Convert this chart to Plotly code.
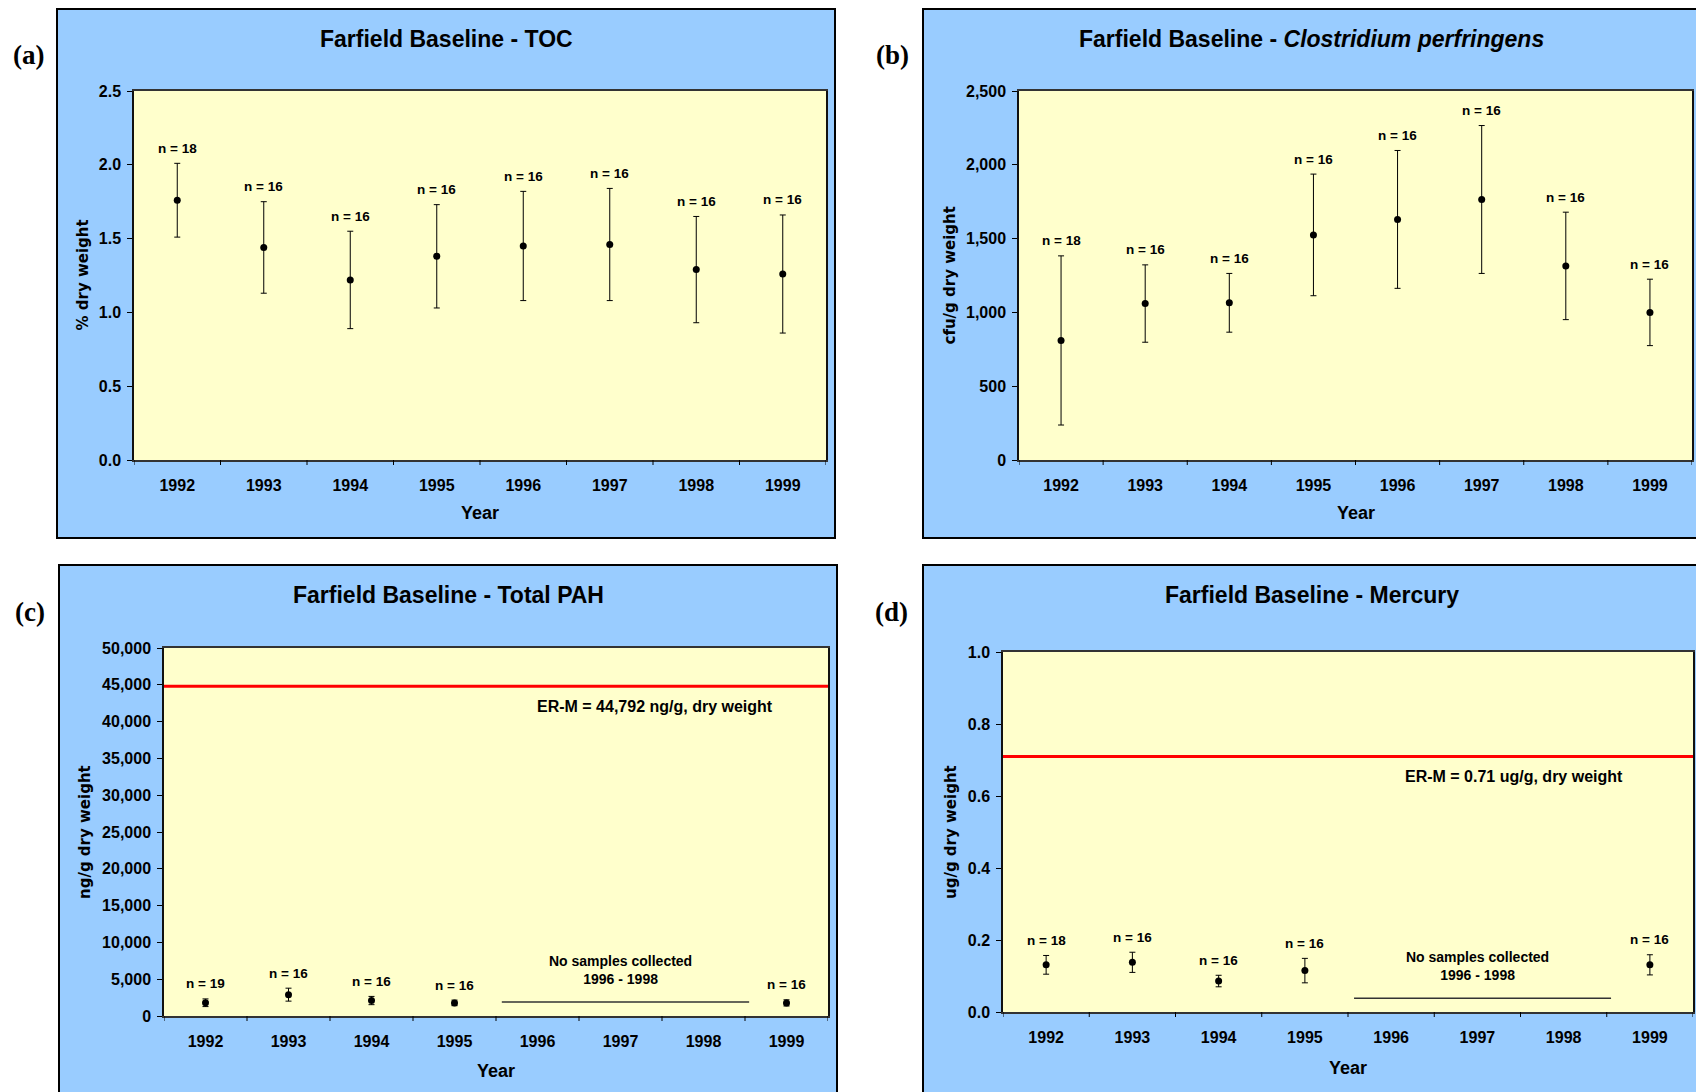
import plotly.graph_objects as go

# ---------------- data ----------------
years = ["1992", "1993", "1994", "1995", "1996", "1997", "1998", "1999"]

toc_mean = [1.76, 1.44, 1.22, 1.38, 1.45, 1.46, 1.29, 1.26]
toc_sd = [0.25, 0.31, 0.33, 0.35, 0.37, 0.38, 0.36, 0.40]
toc_n = [18, 16, 16, 16, 16, 16, 16, 16]

cp_mean = [810, 1060, 1065, 1525, 1630, 1765, 1315, 1000]
cp_sd = [573, 262, 199, 412, 467, 501, 364, 225]
cp_n = [18, 16, 16, 16, 16, 16, 16, 16]

pah_years = ["1992", "1993", "1994", "1995", "1999"]
pah_mean = [1800, 2900, 2100, 1780, 1780]
pah_sd = [520, 880, 560, 380, 420]
pah_n = [19, 16, 16, 16, 16]
pah_erm = 44792
pah_gap_level = 1900

hg_years = ["1992", "1993", "1994", "1995", "1999"]
hg_mean = [0.131, 0.138, 0.086, 0.115, 0.131]
hg_sd = [0.026, 0.028, 0.016, 0.034, 0.028]
hg_n = [18, 16, 16, 16, 16]
hg_erm = 0.71
hg_gap_level = 0.038

gap_text = "No samples collected<br>1996 - 1998"

# ---------------- layout helpers ----------------
W, H = 1696, 1092
BLUE = "#99CCFF"
YELLOW = "#FFFFCC"
SANS = "Liberation Sans"


def fx(x):
    return x / W


def fy(y):
    return 1 - y / H


panels = [
    dict(key="a", box=(57, 9, 835, 538), plot=(134, 91, 826, 460),
         title="Farfield Baseline - TOC", title_x=446, title_y=39,
         ytitle="% dry weight", ytitle_x=82,
         letter_xy=(28, 55), year_y=513,
         x=years, mean=toc_mean, sd=toc_sd, n=toc_n,
         yrange=[0, 2.5], dtick=0.5, fmt=".1f", nshift=15),
    dict(key="b", box=(923, 9, 1705, 538), plot=(1019, 91, 1692, 460),
         title="Farfield Baseline - <i>Clostridium perfringens</i>", title_x=1311, title_y=39,
         ytitle="cfu/g dry weight", ytitle_x=949,
         letter_xy=(892, 55), year_y=513,
         x=years, mean=cp_mean, sd=cp_sd, n=cp_n,
         yrange=[0, 2500], dtick=500, fmt=",", nshift=15),
    dict(key="c", box=(59, 565, 837, 1100), plot=(164, 648, 828, 1016),
         title="Farfield Baseline - Total PAH", title_x=448, title_y=595,
         ytitle="ng/g dry weight", ytitle_x=85,
         letter_xy=(30, 612), year_y=1071,
         x=pah_years, mean=pah_mean, sd=pah_sd, n=pah_n,
         yrange=[0, 50000], dtick=5000, fmt=",", nshift=15,
         erm=pah_erm, erm_text="ER-M = 44,792 ng/g, dry weight", gap=pah_gap_level),
    dict(key="d", box=(923, 565, 1705, 1100), plot=(1003, 652, 1693, 1012),
         title="Farfield Baseline - Mercury", title_x=1312, title_y=595,
         ytitle="ug/g dry weight", ytitle_x=951,
         letter_xy=(891, 612), year_y=1068,
         x=hg_years, mean=hg_mean, sd=hg_sd, n=hg_n,
         yrange=[0, 1.0], dtick=0.2, fmt=".1f", nshift=15,
         erm=hg_erm, erm_text="ER-M = 0.71 ug/g, dry weight", gap=hg_gap_level),
]

fig = go.Figure()
shapes = []
annotations = []

for i, p in enumerate(panels):
    idx = "" if i == 0 else str(i + 1)
    xa, ya = "x" + idx, "y" + idx
    x0, y0, x1, y1 = p["box"]
    px0, py0, px1, py1 = p["plot"]

    # panel background frame
    shapes.append(dict(type="rect", xref="paper", yref="paper", layer="below",
                       x0=fx(x0), x1=fx(x1), y0=fy(y1), y1=fy(y0),
                       fillcolor=BLUE, line=dict(color="black", width=2)))
    # plot area fill
    shapes.append(dict(type="rect", xref="paper", yref="paper", layer="below",
                       x0=fx(px0), x1=fx(px1), y0=fy(py1), y1=fy(py0),
                       fillcolor=YELLOW, line=dict(width=0)))

    xpos = [years.index(v) for v in p["x"]]
    fig.add_trace(go.Scatter(
        x=xpos, y=p["mean"], mode="markers",
        marker=dict(size=7, color="black"),
        error_y=dict(type="data", array=p["sd"], visible=True,
                     color="black", thickness=1, width=3),
        xaxis=xa, yaxis=ya, showlegend=False, hoverinfo="y"))

    axis_x = dict(domain=[fx(px0), fx(px1)], anchor=ya, type="linear",
                  range=[-0.5, 7.5], tickmode="array",
                  tickvals=list(range(len(years))), ticktext=years,
                  ticks="", showline=True, linecolor="#333333", linewidth=1.5, mirror=True,
                  showgrid=False, zeroline=False, ticklabelstandoff=10, automargin=False,
                  tickfont=dict(family=SANS, size=16, color="black", weight="bold"))
    axis_y = dict(domain=[fy(py1), fy(py0)], anchor=xa, range=p["yrange"],
                  dtick=p["dtick"], tick0=0, tickformat=p["fmt"], ticks="outside",
                  ticklen=5, tickcolor="black", showline=True, linecolor="#111111",
                  linewidth=1.5, mirror=True, showgrid=False, zeroline=False,
                  ticklabelstandoff=3, automargin=False,
                  tickfont=dict(family=SANS, size=16, color="black", weight="bold"))
    fig.update_layout(**{"xaxis" + idx: axis_x, "yaxis" + idx: axis_y})

    # category boundary tick marks (Excel style)
    for b in range(len(years) + 1):
        shapes.append(dict(type="line", xref=xa, yref=ya + " domain",
                           x0=b - 0.5, x1=b - 0.5, y0=0, y1=-5 / (py1 - py0),
                           line=dict(color="black", width=1)))

    # n labels
    for xv, m, s, n in zip(xpos, p["mean"], p["sd"], p["n"]):
        annotations.append(dict(x=xv, y=m + s, xref=xa, yref=ya, text=f"n = {n}",
                                showarrow=False, xanchor="center", yanchor="middle",
                                yshift=p["nshift"],
                                font=dict(family=SANS, size=13.5, color="black", weight="bold")))

    # titles
    annotations.append(dict(x=fx(p["title_x"]), y=fy(p["title_y"]), xref="paper", yref="paper",
                            text=p["title"], showarrow=False, xanchor="center", yanchor="middle",
                            font=dict(family=SANS, size=23, color="black", weight="bold")))
    annotations.append(dict(x=fx((px0 + px1) / 2), y=fy(p["year_y"]), xref="paper", yref="paper",
                            text="Year", showarrow=False, xanchor="center", yanchor="middle",
                            font=dict(family=SANS, size=18, color="black", weight="bold")))
    annotations.append(dict(x=fx(p["ytitle_x"]), y=fy((py0 + py1) / 2), xref="paper", yref="paper",
                            text=p["ytitle"], showarrow=False, textangle=-90,
                            xanchor="center", yanchor="middle",
                            font=dict(family="DejaVu Sans", size=15, color="black", weight="bold")))
    annotations.append(dict(x=fx(p["letter_xy"][0]), y=fy(p["letter_xy"][1]), xref="paper", yref="paper",
                            text=f"({p['key']})", showarrow=False, xanchor="center", yanchor="middle",
                            font=dict(family="Liberation Serif", size=27, color="black", weight="bold")))

    if "erm" in p:
        shapes.append(dict(type="line", xref=xa + " domain", yref=ya, x0=0, x1=1,
                           y0=p["erm"], y1=p["erm"], line=dict(color="#FF0000", width=3)))
        annotations.append(dict(x=0.74, y=p["erm"], xref=xa + " domain", yref=ya,
                                text=p["erm_text"], showarrow=False, xanchor="center",
                                yanchor="middle", yshift=-20,
                                font=dict(family=SANS, size=16, color="black", weight="bold")))
        i96, i97, i98 = years.index("1996"), years.index("1997"), years.index("1998")
        shapes.append(dict(type="line", xref=xa, yref=ya, x0=i96 - 0.43, x1=i98 + 0.55,
                           y0=p["gap"], y1=p["gap"], line=dict(color="#333333", width=1.5)))
        annotations.append(dict(x=i97, y=p["gap"], xref=xa, yref=ya, text=gap_text,
                                showarrow=False, xanchor="center", yanchor="middle", yshift=32,
                                font=dict(family=SANS, size=14, color="black", weight="bold")))

fig.update_layout(width=W, height=H, margin=dict(l=0, r=0, t=0, b=0, pad=0, autoexpand=False),
                  paper_bgcolor="white", plot_bgcolor="rgba(0,0,0,0)",
                  shapes=shapes, annotations=annotations, showlegend=False)

fig.write_html("out.html")
